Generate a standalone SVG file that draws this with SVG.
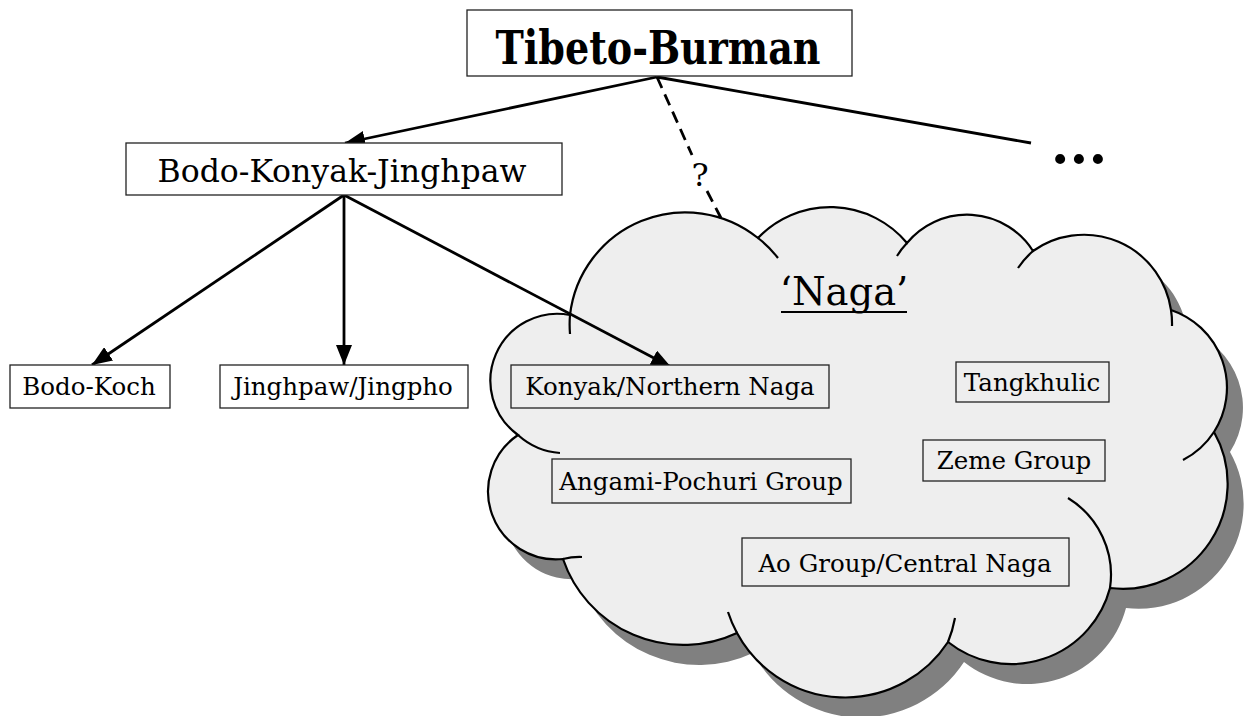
<svg xmlns="http://www.w3.org/2000/svg" width="1244" height="716" viewBox="0 0 1244 716">
<defs>
<style>
text{font-family:"DejaVu Serif",serif;fill:#000;text-anchor:middle}
.title{font-weight:bold}
.box{fill:#fff;stroke:#222;stroke-width:1.3}
.ibox{fill:#eeeeee;stroke:#222;stroke-width:1.3}
.lbl{font-size:24.5px}
.con{stroke:#000;stroke-width:2.8;fill:none}
.hook{stroke:#000;stroke-width:2.2;fill:none}
</style>
<marker id="ah" viewBox="0 0 20 16" refX="20" refY="8" markerWidth="20" markerHeight="16" markerUnits="userSpaceOnUse" orient="auto">
<path d="M0,0 L20,8 L0,16 Z" fill="#000"/>
</marker>
<path id="cloud" d="M518,435 A67,67 0 0 1 570,315 A116,116 0 0 1 758,238 A100,100 0 0 1 907,243 A78,78 0 0 1 1033,251 A88,88 0 0 1 1171,310 A82,82 0 0 1 1214,432 A105,105 0 0 1 1110,588 A102,102 0 0 1 948,642 A123,123 0 0 1 737,633 A127,127 0 0 1 563,559 A68,68 0 0 1 518,435 Z"/>
</defs>
<g id="naga-cloud">
<use href="#cloud" transform="translate(16,20)" fill="#808080"/>
<use href="#cloud" fill="#eeeeee" stroke="#000" stroke-width="2.2"/>
<path class="hook" d="M560,453 A70,70 0 0 1 518,435 M570,334 A116,116 0 0 1 570,315 M758,238 A116,116 0 0 1 778,258 M897,256 A78,78 0 0 1 907,243 M1018,268 A88,88 0 0 1 1033,251 M1171,310 A88,88 0 0 1 1172,326 M1214,432 A82,82 0 0 1 1183,460 M1068,498 A90,90 0 0 1 1110,588 M955,618 A123,123 0 0 1 948,642 M737,633 A123,123 0 0 1 728,612 M563,559 A68,68 0 0 1 582,557"/>
<text x="844" y="305" font-size="38.5">‘Naga’</text>
<line x1="781" y1="312" x2="907" y2="312" stroke="#000" stroke-width="2"/>
</g>
<g id="connectors">
<line class="con" x1="657" y1="77" x2="345" y2="143" marker-end="url(#ah)"/>
<line class="con" x1="657" y1="77" x2="692" y2="155" stroke-dasharray="12,7"/>
<line class="con" x1="707" y1="191" x2="721" y2="218" stroke-dasharray="12,7"/>
<text x="700" y="186" font-size="32">?</text>
<line class="con" x1="657" y1="77" x2="1031" y2="143"/>
<line class="con" x1="344" y1="195" x2="92" y2="365" marker-end="url(#ah)"/>
<line class="con" x1="344" y1="195" x2="344" y2="365" marker-end="url(#ah)"/>
<line class="con" x1="344" y1="195" x2="671" y2="367" marker-end="url(#ah)"/>
</g>
<g id="tibeto-burman">
<rect class="box" x="467" y="10" width="385" height="66"/>
<text class="title" x="658" y="64" font-size="46" textLength="325" lengthAdjust="spacingAndGlyphs">Tibeto-Burman</text>
</g>
<g id="more">
<text x="1079" y="163" font-size="54" font-weight="bold">...</text>
</g>
<g id="bodo-konyak-jinghpaw">
<rect class="box" x="126" y="143" width="436" height="52"/>
<text x="342" y="182" font-size="31.5">Bodo-Konyak-Jinghpaw</text>
</g>
<g id="bodo-koch">
<rect class="box" x="10" y="365" width="160" height="43"/>
<text x="89" y="395" class="lbl">Bodo-Koch</text>
</g>
<g id="jinghpaw">
<rect class="box" x="220" y="365" width="248" height="43"/>
<text x="343" y="395" class="lbl">Jinghpaw/Jingpho</text>
</g>
<g id="konyak">
<rect class="ibox" x="511" y="365" width="318" height="43"/>
<text x="670" y="395" class="lbl">Konyak/Northern Naga</text>
</g>
<g id="tangkhulic">
<rect class="ibox" x="956" y="362" width="153" height="40"/>
<text x="1032" y="391" class="lbl">Tangkhulic</text>
</g>
<g id="zeme">
<rect class="ibox" x="923" y="440" width="182" height="41"/>
<text x="1014" y="469" class="lbl">Zeme Group</text>
</g>
<g id="angami-pochuri">
<rect class="ibox" x="552" y="459" width="299" height="44"/>
<text x="701" y="490" class="lbl">Angami-Pochuri Group</text>
</g>
<g id="ao">
<rect class="ibox" x="742" y="538" width="327" height="48"/>
<text x="905" y="572" class="lbl">Ao Group/Central Naga</text>
</g>
</svg>
